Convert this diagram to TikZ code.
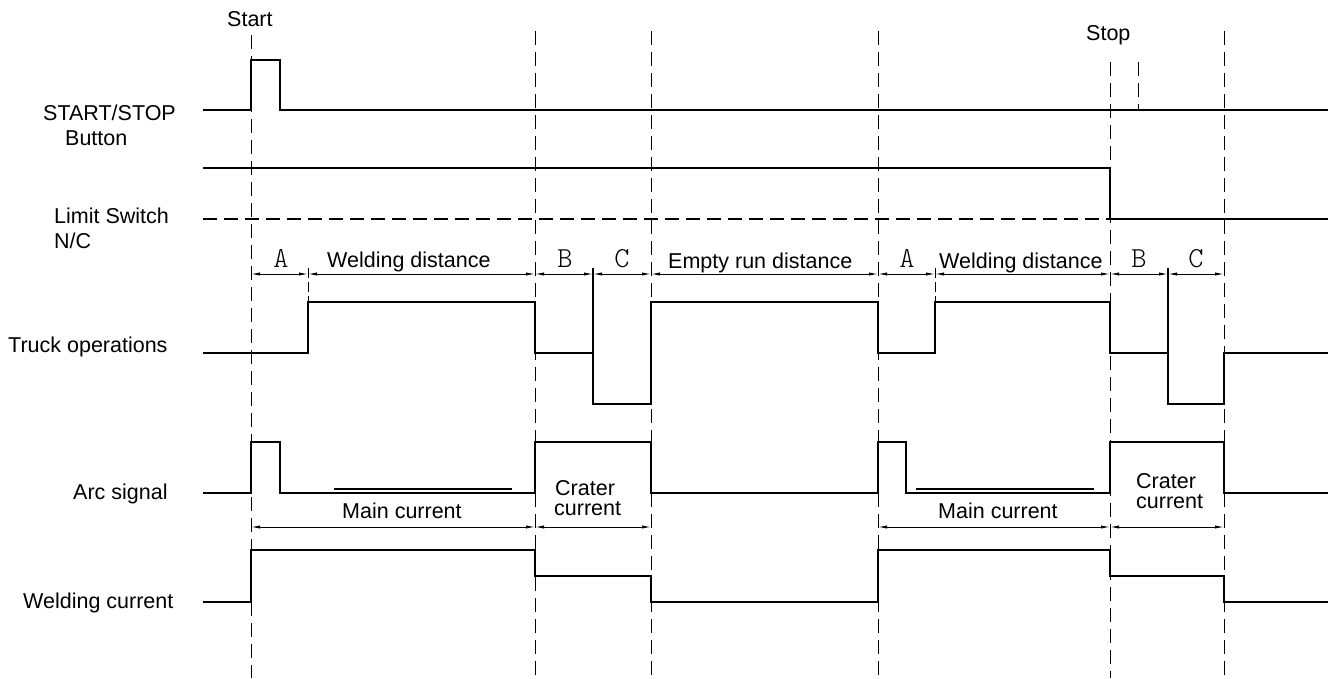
\documentclass[tikz,border=0pt]{standalone}
\usepackage{fontspec}
\setmainfont{Liberation Sans}
\newfontfamily\cadfont{lmmonolt10-regular.otf}
\usetikzlibrary{arrows.meta}

\tikzset{
  sig/.style={line width=1.1pt},
  guide/.style={line width=1pt,dash pattern=on 14pt off 7pt},
  dimline/.style={line width=0.9pt,{Latex[length=9pt,width=3.2pt]}-{Latex[length=9pt,width=3.2pt]}},
  lbl/.style={anchor=base west,inner sep=0pt,font=\fontsize{21.5}{23}\selectfont},
  seg/.style={anchor=base,inner sep=0pt,font=\fontsize{29}{30}\cadfont},
}

\begin{document}
\begin{tikzpicture}[x=1pt,y=-1pt]
        \useasboundingbox (0,0) rectangle (1328,678);
        % dashed time marks
        \draw[guide] (251,35) -- (251,678);
        \foreach \t in {535,651,878,1224}
            \draw[guide] (\t,31) -- (\t,678);
        \draw[guide] (1110,62) -- (1110,678);
        \draw[guide] (1138,62) -- (1138,110);
        \node[lbl] (start) at (227,26) {Start};
        \node[lbl] (stop) at (1086,40) {Stop};

        % row names
        \node[lbl] (btn) at (43,120) {START/STOP};
        \node[lbl] (btnb) at (65,145) {Button};
        \node[lbl] (lim) at (54,223) {Limit Switch};
        \node[lbl] (limb) at (54,248) {N/C};
        \node[lbl] (truck) at (8,352) {Truck operations};
        \node[lbl] (arc) at (73,499) {Arc signal};
        \node[lbl] (weld) at (23,608) {Welding current};

        % START/STOP button
        \draw[sig] (203,110) -| (251,60) -| (280,110) -- (1328,110);
        % limit switch
        \draw[sig] (203,168) -| (1110,219) -- (1328,219);
        \draw[guide,line width=1.1pt] (203,219) -- (1110,219);

        % truck operations
        \foreach \a/\b in {251/308,308/535,535/593,593/651,651/878,878/935,935/1110,1110/1168,1168/1224}
            \draw[dimline] (\a,274) -- (\b,274);
        \draw[guide,dash pattern=on 10pt off 4pt] (308,268) -- (308,302);
        \draw[guide,dash pattern=on 10pt off 4pt] (935,268) -- (935,302);
        \draw[sig] (593,268) -- (593,353);
        \draw[sig] (1168,268) -- (1168,353);
        \draw[sig] (203,353) -| (308,302) -| (535,353) -| (593,404) -| (651,302) -| (878,353) -| (935,302) -| (1110,353) -| (1168,404) -| (1224,353) -- (1328,353);
        \node[seg] (segA) at (281,267) {A};
        \node[seg] (segB) at (565,267) {B};
        \node[seg] (segC) at (622,267) {C};
        \node[seg] (segA2) at (907,267) {A};
        \node[seg] (segB2) at (1139,267) {B};
        \node[seg] (segC2) at (1196,267) {C};
        \node[lbl] (wd) at (327,267) {Welding distance};
        \node[lbl] (er) at (668,268) {Empty run distance};
        \node[lbl] (wd2) at (939,268) {Welding distance};

        % arc signal
        \draw[sig] (203,493) -| (251,442) -| (280,493) -| (535,442) -| (651,493) -| (878,442) -| (906,493) -| (1110,442) -| (1224,493) -- (1328,493);
        \draw[line width=1.6pt] (334,489) -- (512,489);
        \draw[line width=1.6pt] (916,489) -- (1094,489);
        \foreach \a/\b in {251/535,535/651,878/1110,1110/1224}
            \draw[dimline] (\a,527) -- (\b,527);
        \node[lbl] (mc) at (342,518) {Main current};
        \node[lbl] (mc2) at (938,518) {Main current};
        \node[lbl] (cr) at (555,495) {Crater};
        \node[lbl] (crb) at (554,515) {current};
        \node[lbl] (cr2) at (1136,488) {Crater};
        \node[lbl] (cr2b) at (1136,508) {current};

        % welding current
        \draw[sig] (203,602) -| (251,550) -| (535,576) -| (651,602) -| (878,550) -| (1110,576) -| (1224,602) -- (1328,602);
    \end{tikzpicture}
\end{document}
